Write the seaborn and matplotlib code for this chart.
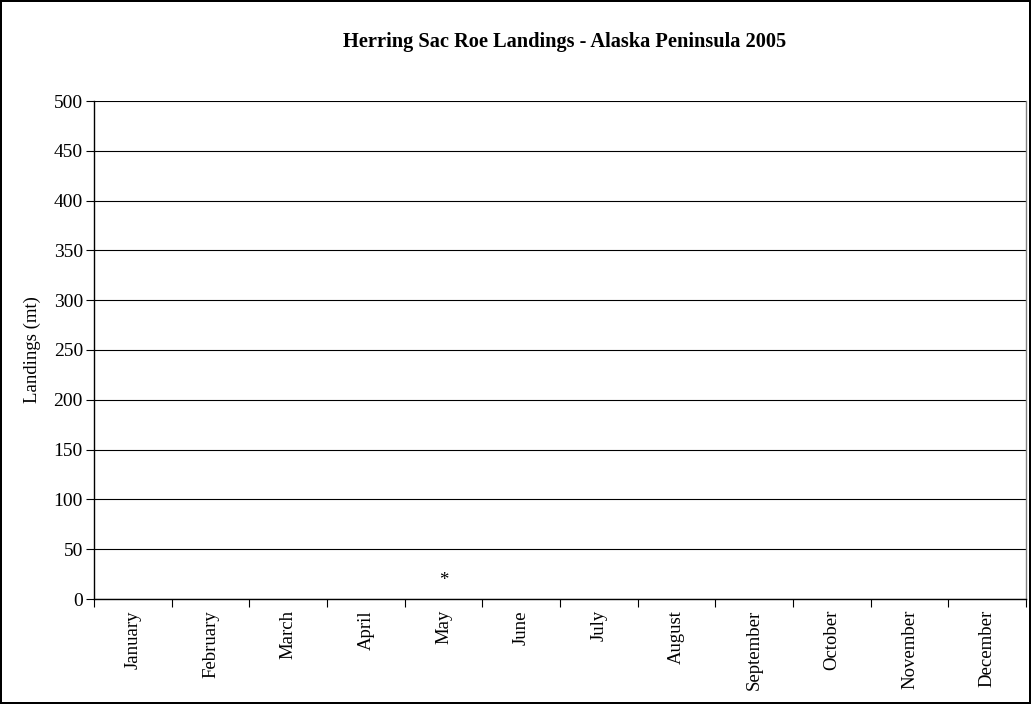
import matplotlib
matplotlib.use("Agg")
import matplotlib.pyplot as plt
import seaborn as sns
import pandas as pd

# ---- data ----
months = ["January", "February", "March", "April", "May", "June", "July",
          "August", "September", "October", "November", "December"]
landings = [0, 0, 0, 0, 0, 0, 0, 0, 0, 0, 0, 0]
confidential = ["", "", "", "", "*", "", "", "", "", "", "", ""]
marker_level = 19
y_ticks = [0, 50, 100, 150, 200, 250, 300, 350, 400, 450, 500]
title = "Herring Sac Roe Landings - Alaska Peninsula 2005"
y_label = "Landings (mt)"

sns.set_theme(style="white")
plt.rcParams["font.family"] = ["Liberation Serif", "DejaVu Serif"]
plt.rcParams["text.color"] = "black"
plt.rcParams["axes.labelcolor"] = "black"
plt.rcParams["xtick.color"] = "black"
plt.rcParams["ytick.color"] = "black"

FS = 13.5

df = pd.DataFrame({"Month": months, "Landings": landings})

fig = plt.figure(figsize=(10.31, 7.04), dpi=100, linewidth=1.5, edgecolor="black")
ax = fig.add_axes([94 / 1031, 105 / 704, (1026 - 94) / 1031, (599 - 101) / 704])

sns.barplot(data=df, x="Month", y="Landings", ax=ax, color="#9999FF",
            linewidth=0, order=months)

for i, c in enumerate(confidential):
    if c:
        ax.text(i, marker_level, c, ha="center", va="center", fontsize=FS, color="black")

ax.set_xlim(-0.5, len(months) - 0.5)
ax.set_ylim(0, 500)
ax.set_yticks(y_ticks)
ax.set_yticklabels([str(v) for v in y_ticks], fontsize=14)
ax.yaxis.grid(True, color="black", linewidth=0.8)
ax.set_axisbelow(True)

# ticks at category boundaries, labels at centres
ax.set_xticks([i - 0.5 for i in range(len(months) + 1)])
ax.set_xticklabels([""] * (len(months) + 1))
ax.set_xticks(list(range(len(months))), minor=True)
ax.set_xticklabels(months, minor=True, rotation=90, fontsize=FS)
ax.tick_params(axis="x", which="major", length=6, width=0.8, color="black", direction="out", bottom=True)
ax.tick_params(axis="x", which="minor", length=0, pad=8)
ax.tick_params(axis="y", length=6, width=0.8, color="black", direction="out", left=True, pad=2)

ax.set_xlabel("")
ax.set_ylabel(y_label, fontsize=FS, labelpad=9)

for side in ["left", "bottom"]:
    ax.spines[side].set_color("black")
    ax.spines[side].set_linewidth(1.0)
ax.spines["top"].set_visible(False)
ax.spines["right"].set_color("#808080")
ax.spines["right"].set_linewidth(1.0)

fig.text(565 / 1031, 662 / 704, title, ha="center", va="center",
         fontsize=14.7, fontweight="bold", color="black")

fig.savefig("out.png", dpi=100, edgecolor=fig.get_edgecolor())
